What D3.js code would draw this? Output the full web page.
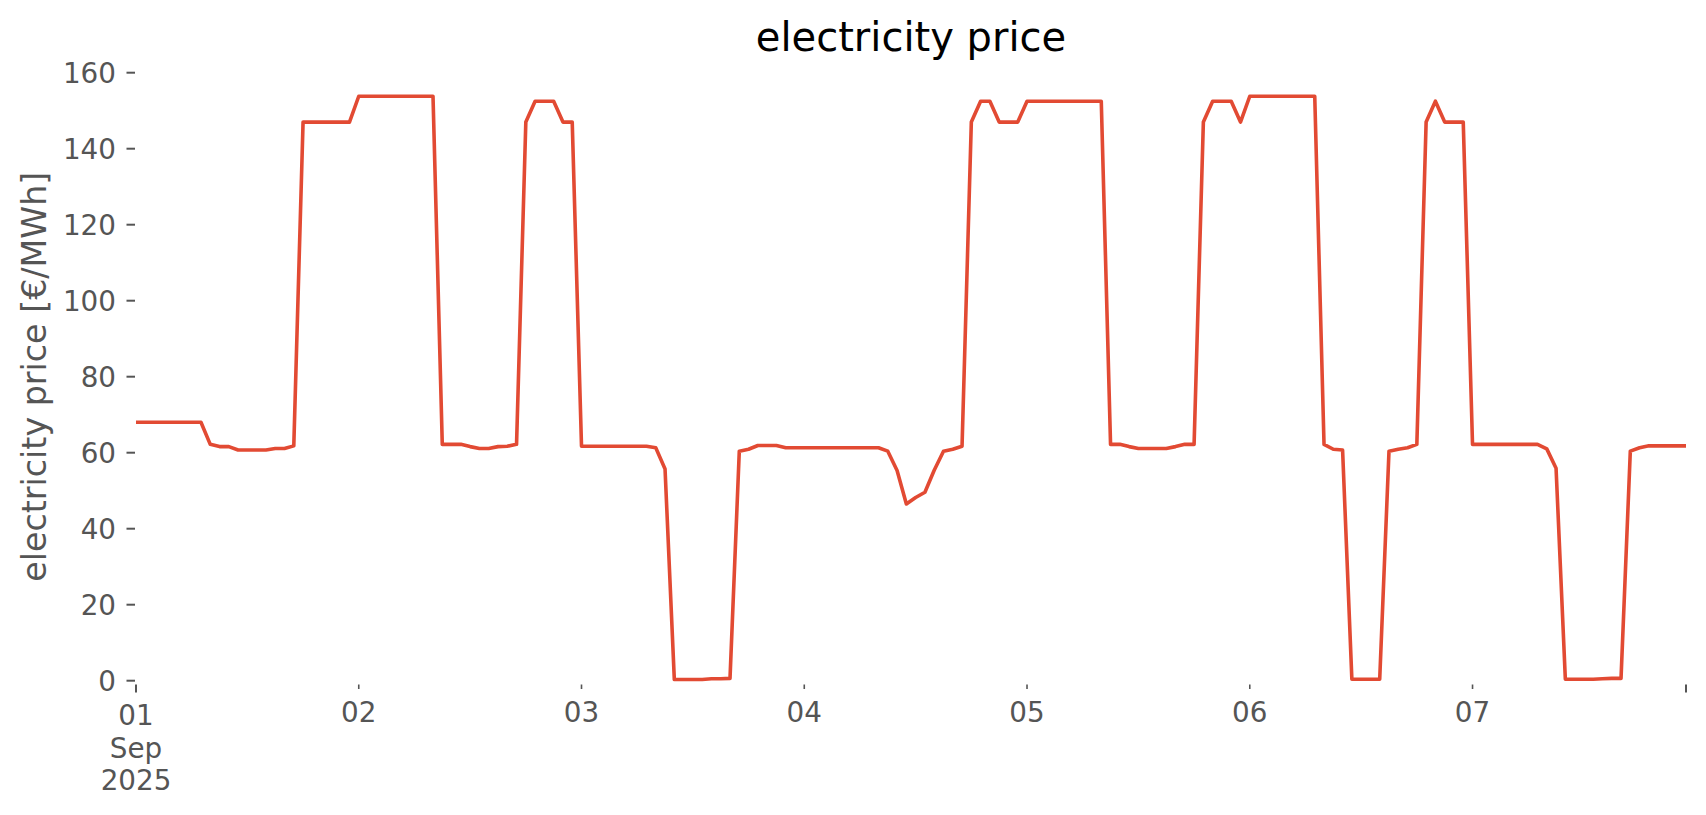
<!DOCTYPE html>
<html>
<head>
<meta charset="utf-8">
<script src="https://cdn.jsdelivr.net/npm/d3@7"></script>
<style>
  body { margin: 0; background: #fff; }
  svg { display: block; font-family: "DejaVu Sans", sans-serif; }
  .tick-lbl { fill: #555555; font-size: 27.8px; }
</style>
</head>
<body>
<svg id="chart" width="1706" height="815"></svg>
<script>
// hourly price, Sep 01 00:00 .. Sep 07 23:00 (UTC)
const startTime = Date.UTC(2025, 8, 1, 0);
const prices = [
  // Sep 01
  68, 68, 68, 68, 68, 68, 68, 68, 62.2, 61.6, 61.6, 60.7,
  60.7, 60.7, 60.7, 61.1, 61.1, 61.8, 147, 147, 147, 147, 147, 147,
  // Sep 02
  153.8, 153.8, 153.8, 153.8, 153.8, 153.8, 153.8, 153.8, 153.8, 62.2, 62.2, 62.2,
  61.6, 61.1, 61.1, 61.6, 61.7, 62.2, 147, 152.5, 152.5, 152.5, 147, 147,
  // Sep 03
  61.7, 61.7, 61.7, 61.7, 61.7, 61.7, 61.7, 61.7, 61.3, 55.7, 0.3, 0.3,
  0.3, 0.3, 0.5, 0.5, 0.6, 60.4, 60.9, 61.9, 61.9, 61.9, 61.3, 61.3,
  // Sep 04
  61.3, 61.3, 61.3, 61.3, 61.3, 61.3, 61.3, 61.3, 61.3, 60.4, 55.3, 46.5,
  48.2, 49.6, 55.4, 60.4, 60.9, 61.7, 147, 152.5, 152.5, 147, 147, 147,
  // Sep 05
  152.5, 152.5, 152.5, 152.5, 152.5, 152.5, 152.5, 152.5, 152.5, 62.2, 62.2, 61.6,
  61.1, 61.1, 61.1, 61.1, 61.6, 62.2, 62.2, 147, 152.5, 152.5, 152.5, 147,
  // Sep 06
  153.8, 153.8, 153.8, 153.8, 153.8, 153.8, 153.8, 153.8, 62.2, 60.9, 60.7, 0.4,
  0.4, 0.4, 0.4, 60.4, 60.9, 61.3, 62.2, 147, 152.5, 147, 147, 147,
  // Sep 07
  62.2, 62.2, 62.2, 62.2, 62.2, 62.2, 62.2, 62.2, 61.0, 55.9, 0.4, 0.4,
  0.4, 0.4, 0.5, 0.6, 0.6, 60.4, 61.3, 61.8, 61.8, 61.8, 61.8, 61.8
];
const yTicks = [0, 20, 40, 60, 80, 100, 120, 140, 160];
const dayLabels = ["01", "02", "03", "04", "05", "06", "07"];

const times = prices.map((p, i) => new Date(startTime + i * 3600e3));
const data = prices.map((p, i) => ({ t: times[i], v: p }));

const svg = d3.select("#chart");
const plotLeft = 136, plotRight = 1686, plotTop = 72.7, zeroY = 680.7, axisBottom = 684.5;

const x = d3.scaleUtc()
  .domain([times[0], times[times.length - 1]])
  .range([plotLeft, plotRight]);
const y = d3.scaleLinear()
  .domain([0, 160])
  .range([zeroY, plotTop]);

// title
svg.append("text")
  .attr("x", (plotLeft + plotRight) / 2)
  .attr("y", 51)
  .attr("text-anchor", "middle")
  .attr("font-size", "40px")
  .attr("fill", "#000")
  .text("electricity price");

// y label
svg.append("text")
  .attr("transform", "translate(46," + ((plotTop + zeroY) / 2) + ") rotate(-90)")
  .attr("text-anchor", "middle")
  .attr("font-size", "33.3px")
  .attr("fill", "#555555")
  .text("electricity price [€/MWh]");

// y axis
const yAxis = svg.append("g");
yTicks.forEach(v => {
  yAxis.append("line")
    .attr("x1", plotLeft - 9.5).attr("x2", plotLeft - 1)
    .attr("y1", y(v)).attr("y2", y(v))
    .attr("stroke", "#555555").attr("stroke-width", 2);
  yAxis.append("text")
    .attr("class", "tick-lbl")
    .attr("x", plotLeft - 20)
    .attr("y", y(v))
    .attr("dy", "0.36em")
    .attr("text-anchor", "end")
    .text(v);
});

// x axis: one tick per day
const days = d3.utcDay.range(times[0], d3.utcHour.offset(times[times.length - 1], 1));
const xAxis = svg.append("g");
days.forEach((d, i) => {
  const major = i === 0;
  xAxis.append("line")
    .attr("x1", x(d)).attr("x2", x(d))
    .attr("y1", axisBottom).attr("y2", axisBottom + (major ? 8 : 4.5))
    .attr("stroke", "#555555").attr("stroke-width", major ? 2 : 1.6);
  xAxis.append("text")
    .attr("class", "tick-lbl")
    .attr("x", x(d))
    .attr("y", major ? 725 : 722)
    .attr("text-anchor", "middle")
    .text(dayLabels[i]);
  if (major) {
    xAxis.append("text").attr("class", "tick-lbl")
      .attr("x", x(d)).attr("y", 757.5).attr("text-anchor", "middle").text("Sep");
    xAxis.append("text").attr("class", "tick-lbl")
      .attr("x", x(d)).attr("y", 789.5).attr("text-anchor", "middle").text("2025");
  }
});
// closing tick at the right end
xAxis.append("line")
  .attr("x1", plotRight).attr("x2", plotRight)
  .attr("y1", axisBottom).attr("y2", axisBottom + 8)
  .attr("stroke", "#555555").attr("stroke-width", 2);

// price line
const line = d3.line()
  .x(d => x(d.t))
  .y(d => y(d.v));

svg.append("path")
  .datum(data)
  .attr("fill", "none")
  .attr("stroke", "#E24A33")
  .attr("stroke-width", 3.6)
  .attr("stroke-linejoin", "round")
  .attr("d", line);
</script>
</body>
</html>
